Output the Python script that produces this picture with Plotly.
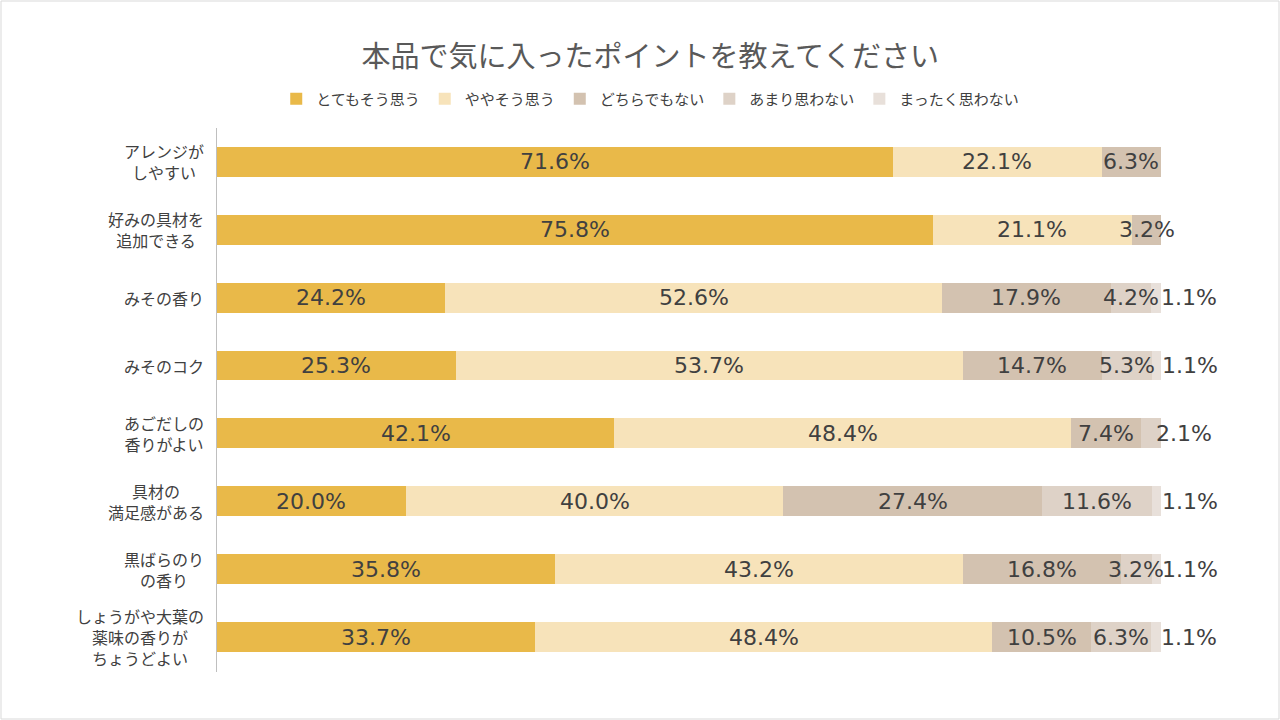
import plotly.graph_objects as go

# categories (top to bottom)
items = [
    "アレンジが<br>しやすい",
    "好みの具材を<br>追加できる",
    "みその香り",
    "みそのコク",
    "あごだしの<br>香りがよい",
    "具材の<br>満足感がある",
    "黒ばらのり<br>の香り",
    "しょうがや大葉の<br>薬味の香りが<br>ちょうどよい",
]

answers = ["とてもそう思う", "ややそう思う", "どちらでもない", "あまり思わない", "まったく思わない"]

# percent per answer, one list per answer (None = no share)
very_much = [71.6, 75.8, 24.2, 25.3, 42.1, 20.0, 35.8, 33.7]
somewhat = [22.1, 21.1, 52.6, 53.7, 48.4, 40.0, 43.2, 48.4]
neutral = [6.3, 3.2, 17.9, 14.7, 7.4, 27.4, 16.8, 10.5]
not_much = [None, None, 4.2, 5.3, 2.1, 11.6, 3.2, 6.3]
not_at_all = [None, None, 1.1, 1.1, None, 1.1, 1.1, 1.1]

series = [very_much, somewhat, neutral, not_much, not_at_all]
colors = ["#E9B949", "#F7E3BA", "#D3C2B0", "#DED2C7", "#E8E0DA"]

FONT = "Noto Sans CJK JP"
NUM_FONT = "DejaVu Sans"
TEXT_COLOR = "#404040"

fig = go.Figure()

for name, vals, color in zip(answers, series, colors):
    fig.add_trace(go.Bar(
        name=name,
        y=items,
        x=[v / 100 if v is not None else None for v in vals],
        orientation="h",
        marker=dict(color=color, line=dict(width=0)),
        hoverinfo="skip",
    ))

# data labels: centred on each segment; a tiny last segment gets its label
# pushed to the right of the bar end (as in the original)
for row, item in enumerate(items):
    start = 0.0
    row_vals = [s[row] for s in series]
    last = max(i for i, v in enumerate(row_vals) if v is not None)
    for i, v in enumerate(row_vals):
        if v is None:
            continue
        share = v / 100
        mid = start + share / 2
        if i == last and v < 3:
            fig.add_annotation(x=mid, y=item, text=f"{v:.1f}%",
                               xanchor="left", showarrow=False, xshift=3,
                               font=dict(family=NUM_FONT, size=22, color=TEXT_COLOR))
        else:
            fig.add_annotation(x=mid, y=item, text=f"{v:.1f}%",
                               xanchor="center", showarrow=False,
                               font=dict(family=NUM_FONT, size=22, color=TEXT_COLOR))
        start += share

# category labels: block right aligned to the axis, lines centred
for item in items:
    fig.add_annotation(x=0, xref="paper", y=item, text=item,
                       xanchor="right", align="center", showarrow=False,
                       xshift=-11,
                       font=dict(family=FONT, size=16, color=TEXT_COLOR))

fig.update_layout(
    barmode="stack",
    bargap=0.56,
    width=1280,
    height=720,
    paper_bgcolor="white",
    plot_bgcolor="white",
    font=dict(family=FONT, color=TEXT_COLOR),
    margin=dict(l=217, r=119, t=128, b=48),
    title=dict(
        text="本品で気に入ったポイントを教えてください",
        font=dict(family=FONT, size=29, color="#595959"),
        x=0.508, xanchor="center",
        y=1 - 57 / 720, yanchor="middle", yref="container",
    ),
    legend=dict(
        orientation="h",
        x=0.508, xanchor="center", xref="container",
        y=1 - 99 / 720, yanchor="middle", yref="container",
        font=dict(family=FONT, size=15, color=TEXT_COLOR),
        traceorder="normal",
        itemwidth=30,
    ),
    showlegend=True,
)

fig.update_xaxes(
    range=[0, 1],
    visible=False,
    showgrid=False,
    zeroline=False,
)

fig.update_yaxes(
    autorange="reversed",
    showline=True,
    linecolor="#BFBFBF",
    linewidth=1,
    ticks="",
    showgrid=False,
    showticklabels=False,
)

# thin frame around the whole chart
fig.add_shape(
    type="rect", xref="paper", yref="paper",
    x0=-216 / 944, x1=1 + 118 / 944,
    y0=-47 / 544, y1=1 + 127 / 544,
    line=dict(color="#D9D9D9", width=1),
    fillcolor="rgba(0,0,0,0)",
    layer="below",
)

# drop the page's default body margin so the chart sits at the window corner
fig.write_html("out.html", config={"displayModeBar": False},
               post_script="document.body.style.margin='0';")
